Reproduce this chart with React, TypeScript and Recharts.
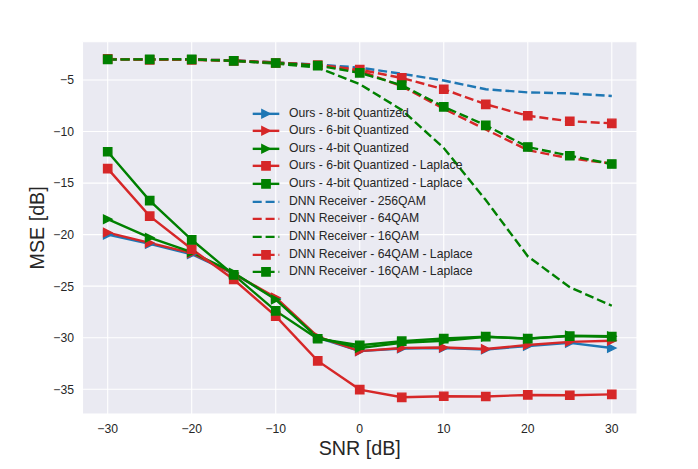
import React from 'react';
import { LineChart, Line, XAxis, YAxis, CartesianGrid, Legend, Label } from 'recharts';

const snr = [-30, -25, -20, -15, -10, -5, 0, 5, 10, 15, 20, 25, 30];

const ours8bit = [-20.0, -20.9, -21.9, -23.8, -26.2, -30.0, -31.3, -31.05, -31.0, -31.15, -30.8, -30.5, -31.0];
const ours6bit = [-19.8, -20.8, -21.8, -23.8, -26.1, -29.9, -31.3, -31.0, -30.95, -31.1, -30.7, -30.4, -30.3];
const ours4bit = [-18.5, -20.3, -21.7, -23.7, -26.3, -30.0, -31.0, -30.5, -30.3, -29.9, -30.1, -29.8, -29.85];
const ours6bitLaplace = [-13.6, -18.2, -21.4, -24.35, -27.9, -32.25, -35.03, -35.78, -35.68, -35.7, -35.55, -35.58, -35.5];
const ours4bitLaplace = [-11.96, -16.7, -20.5, -23.9, -27.4, -30.1, -30.73, -30.34, -30.08, -29.9, -30.08, -29.85, -29.9];
const dnn256 = [-3.0, -3.0, -3.0, -3.1, -3.3, -3.5, -3.8, -4.4, -5.05, -5.9, -6.2, -6.3, -6.55];
const dnn64 = [-3.0, -3.0, -3.0, -3.1, -3.3, -3.55, -4.1, -5.6, -7.8, -9.8, -11.8, -12.6, -13.1];
const dnn16 = [-3.0, -3.0, -3.0, -3.15, -3.4, -3.8, -5.4, -7.9, -11.6, -16.65, -22.1, -25.1, -26.9];
const dnn64Laplace = [-2.95, -3.05, -3.05, -3.15, -3.35, -3.55, -4.0, -4.8, -5.9, -7.36, -8.47, -9.0, -9.2];
const dnn16Laplace = [-3.0, -3.0, -3.0, -3.15, -3.35, -3.6, -4.3, -5.5, -7.6, -9.4, -11.5, -12.35, -13.15];

const xTicks = [-30, -20, -10, 0, 10, 20, 30];
const yTicks = [-35, -30, -25, -20, -15, -10, -5];

const BLUE = '#1f77b4';
const RED = '#d62728';
const GREEN = '#008000';
const TEXT = '#262626';
const FONT = '"Liberation Sans", Arial, sans-serif';
const LW = 2.4;
const DASH = '9 3.9';
const MS = 8.3;
const MEW = 1.4;

type Series = { key: string; name: string; color: string; dashed: boolean; marker: 'tri' | 'sq' | 'none'; values: number[] };

const series: Series[] = [
  { key: 'ours8', name: 'Ours - 8-bit Quantized', color: BLUE, dashed: false, marker: 'tri', values: ours8bit },
  { key: 'ours6', name: 'Ours - 6-bit Quantized', color: RED, dashed: false, marker: 'tri', values: ours6bit },
  { key: 'ours4', name: 'Ours - 4-bit Quantized', color: GREEN, dashed: false, marker: 'tri', values: ours4bit },
  { key: 'ours6L', name: 'Ours - 6-bit Quantized - Laplace', color: RED, dashed: false, marker: 'sq', values: ours6bitLaplace },
  { key: 'ours4L', name: 'Ours - 4-bit Quantized - Laplace', color: GREEN, dashed: false, marker: 'sq', values: ours4bitLaplace },
  { key: 'dnn256', name: 'DNN Receiver - 256QAM', color: BLUE, dashed: true, marker: 'none', values: dnn256 },
  { key: 'dnn64', name: 'DNN Receiver - 64QAM', color: RED, dashed: true, marker: 'none', values: dnn64 },
  { key: 'dnn16', name: 'DNN Receiver - 16QAM', color: GREEN, dashed: true, marker: 'none', values: dnn16 },
  { key: 'dnn64L', name: 'DNN Receiver - 64QAM - Laplace', color: RED, dashed: true, marker: 'sq', values: dnn64Laplace },
  { key: 'dnn16L', name: 'DNN Receiver - 16QAM - Laplace', color: GREEN, dashed: true, marker: 'sq', values: dnn16Laplace },
];

const data = snr.map((x, i) => {
  const row: Record<string, number> = { snr: x };
  series.forEach((s) => {
    row[s.key] = s.values[i];
  });
  return row;
});

const markerPath = (marker: string, cx: number, cy: number) => {
  const h = MS / 2;
  if (marker === 'sq') return `M${cx - h},${cy - h}H${cx + h}V${cy + h}H${cx - h}Z`;
  return `M${cx + h},${cy}L${cx - h},${cy - h}L${cx - h},${cy + h}Z`;
};

const makeDot = (s: Series) => (p: any) => {
  const { cx, cy, index } = p;
  if (cx == null || cy == null) return <g key={`d-${s.key}-${index}`} />;
  return (
    <path
      key={`d-${s.key}-${index}`}
      d={markerPath(s.marker, cx, cy)}
      fill={s.color}
      stroke={s.color}
      strokeWidth={MEW}
      strokeLinejoin="miter"
    />
  );
};

const fmt = (v: number) => (v < 0 ? `\u2212${Math.abs(v)}` : `${v}`);

const LegendContent = () => (
  <div style={{ fontFamily: FONT, fontSize: 12.2, color: TEXT }}>
    {series.map((s) => (
      <div key={s.key} style={{ display: 'flex', alignItems: 'center', height: 17.67, whiteSpace: 'nowrap' }}>
        <svg width={40} height={17.67} style={{ display: 'block' }}>
          <line
            x1={7.7}
            x2={34.3}
            y1={8.835}
            y2={8.835}
            stroke={s.color}
            strokeWidth={LW}
            strokeDasharray={s.dashed ? DASH : undefined}
          />
          {s.marker !== 'none' && (
            <path d={markerPath(s.marker, 21, 8.835)} fill={s.color} stroke={s.color} strokeWidth={MEW} />
          )}
        </svg>
        <span style={{ marginLeft: 4, lineHeight: '17.67px' }}>{s.name}</span>
      </div>
    ))}
  </div>
);

const XLabel = (props: any) => {
  const vb = props.viewBox || { x: 82.5, y: 414, width: 554.5, height: 55 };
  return (
    <text x={vb.x + vb.width / 2} y={vb.y + 41} textAnchor="middle" fontSize={19.7} fill={TEXT} fontFamily={FONT}>
      SNR [dB]
    </text>
  );
};

const YLabel = (props: any) => {
  const vb = props.viewBox || { x: 0, y: 41.7, width: 82.5, height: 372.3 };
  const cx = 44.5;
  const cy = vb.y + vb.height / 2;
  return (
    <text x={cx} y={cy} transform={`rotate(-90, ${cx}, ${cy})`} textAnchor="middle" fontSize={19.7} fill={TEXT} fontFamily={FONT}>
      MSE [dB]
    </text>
  );
};

export default function App() {
  return (
    <div style={{ position: 'absolute', left: 0, top: 0, width: 698, height: 469, background: '#fff' }}>
      <LineChart width={698} height={469} data={data} margin={{ top: 41.7, right: 61, bottom: 0, left: 0 }}>
        <CartesianGrid fill="#EAEAF2" fillOpacity={1} stroke="#ffffff" strokeWidth={1.1} horizontal vertical />
        <XAxis
          dataKey="snr"
          type="number"
          domain={[-33, 33]}
          ticks={xTicks}
          allowDataOverflow
          tickFormatter={fmt}
          tick={{ fontSize: 12.2, fill: TEXT, fontFamily: FONT }}
          tickLine={false}
          axisLine={false}
          tickSize={0}
          tickMargin={10}
          height={55}
          interval={0}
        >
          <Label content={<XLabel />} />
        </XAxis>
        <YAxis
          type="number"
          domain={[-37.4, -1.285]}
          ticks={yTicks}
          allowDataOverflow
          tickFormatter={fmt}
          tick={{ fontSize: 12.2, fill: TEXT, fontFamily: FONT }}
          tickLine={false}
          axisLine={false}
          tickSize={0}
          tickMargin={8.5}
          width={82.5}
          interval={0}
        >
          <Label content={<YLabel />} />
        </YAxis>
        <Legend
          layout="vertical"
          align="center"
          verticalAlign="middle"
          content={<LegendContent />}
          wrapperStyle={{ left: 245, top: 104.5, width: 'auto', height: 'auto' }}
        />
        {series.map((s) => (
          <Line
            key={s.key}
            type="linear"
            dataKey={s.key}
            name={s.name}
            stroke={s.color}
            strokeWidth={LW}
            strokeDasharray={s.dashed ? DASH : undefined}
            dot={s.marker === 'none' ? false : makeDot(s)}
            activeDot={false}
            isAnimationActive={false}
          />
        ))}
      </LineChart>
    </div>
  );
}
